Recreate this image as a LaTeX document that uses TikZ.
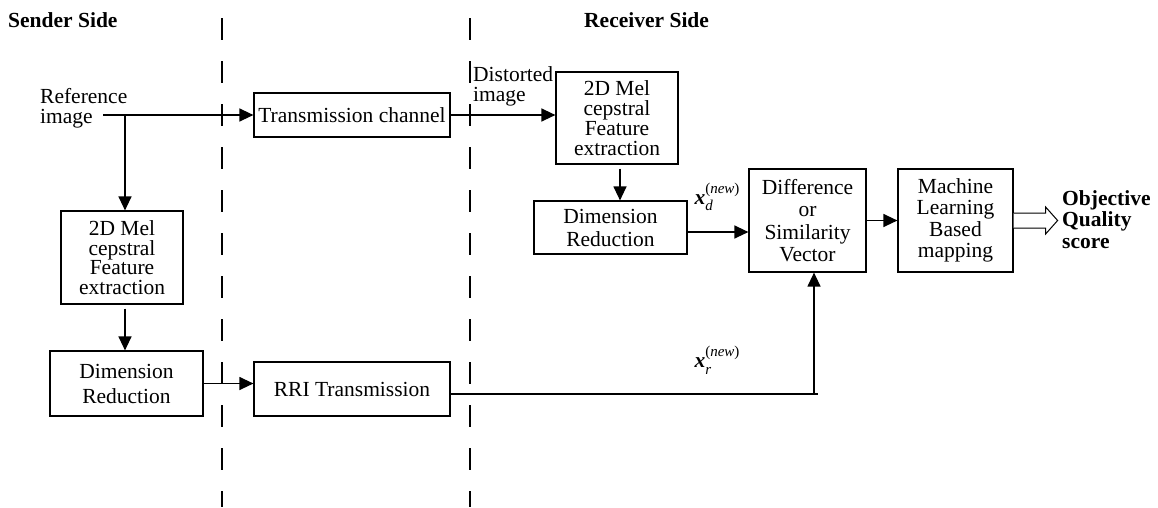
\documentclass[tikz,border=0pt]{standalone}
\usepackage{fontspec}
\setmainfont{Liberation Serif}
\usetikzlibrary{arrows.meta,calc}
\newcommand\setfs[1]{\fontsize{21.5}{#1}\selectfont}
\begin{document}
\begin{tikzpicture}[x=1pt,y=-1pt,
  box/.style={draw, line width=1.2pt, inner sep=0pt, align=center},
  txt/.style={inner sep=0pt, align=left},
  conn/.style={line width=1.3pt, -{Triangle[length=14pt,width=13pt]}},
  wire/.style={line width=1.3pt},
  divider/.style={line width=1.2pt, dash pattern=on 22pt off 21pt}]
\useasboundingbox (0,0) rectangle (1158,507);

% side headings and dividers
\node[txt, anchor=north west, font=\setfs{24}\bfseries] (sender) at (8,12) {Sender Side};
\node[txt, anchor=north west, font=\setfs{24}\bfseries] (receiver) at (584,12) {Receiver Side};
\draw[divider] (222,18) -- (222,507);
\draw[divider] (470,18) -- (470,507);

% sender side
\node[txt, anchor=north west, font=\setfs{20}] (ref) at (40,88) {Reference\\image};
\node[box, minimum width=196pt, minimum height=44pt, font=\setfs{20}] (tc) at (352,115) {Transmission channel};
\node[box, minimum width=122pt, minimum height=93pt, font=\setfs{19.5}] (fe1) at (122,257.5) {2D Mel\\cepstral\\Feature\\extraction};
\node[box, minimum width=153pt, minimum height=65pt, font=\setfs{25}] (dr1) at (126.5,383.5) {Dimension\\Reduction};
\node[box, minimum width=196pt, minimum height=54pt, font=\setfs{20}] (rri) at (352,389) {RRI Transmission};

% receiver side
\node[txt, anchor=north west, font=\setfs{20}] (dist) at (473,66) {Distorted\\image};
\node[box, minimum width=122pt, minimum height=92pt, font=\setfs{20}] (fe2) at (617,118) {2D Mel\\cepstral\\Feature\\extraction};
\node[box, minimum width=153pt, minimum height=53pt, font=\setfs{23}] (dr2) at (610.5,227.5) {Dimension\\Reduction};
\node[box, minimum width=117pt, minimum height=103pt, font=\setfs{22.5}] (diff) at (807.5,220.5) {Difference\\or\\Similarity\\Vector};
\node[box, minimum width=115pt, minimum height=103pt, font=\setfs{21.5}] (ml) at (955.5,220.5) {Machine\\Learning\\Based\\mapping};
\node[txt, anchor=north west, font=\setfs{21.5}\bfseries] (score) at (1062,190) {Objective\\Quality\\score};

% feature labels
\node[txt, font=\setfs{20}] (xd) at (717,197) {\textbf{\textit{x}}\rlap{\raisebox{-0.32em}{\fontsize{15}{15}\selectfont\itshape d}}\raisebox{0.5em}{\fontsize{15}{15}\selectfont(\textit{new})}};
\node[txt, font=\setfs{20}] (xr) at (717,360) {\textbf{\textit{x}}\rlap{\raisebox{-0.32em}{\fontsize{15}{15}\selectfont\itshape r}}\raisebox{0.5em}{\fontsize{15}{15}\selectfont(\textit{new})}};

% connectors
\coordinate (refout) at (103,115);
\coordinate (split) at (125,115);
\draw[conn] (refout) -- (tc.west);
\draw[conn] (split) -- (split |- fe1.north);
\draw[conn] ($(fe1.south)+(3,4)$) coordinate (a1) -- (a1 |- dr1.north);
\draw[conn] (dr1.east) -- (dr1.east -| rri.west);
\draw[conn] (tc.east) -- (tc.east -| fe2.west);
\draw[conn] ($(fe2.south)+(3,4)$) coordinate (a2) -- (a2 |- dr2.north);
\draw[conn] ($(dr2.east)+(0,4.5)$) coordinate (a3) -- (a3 -| diff.west);
\coordinate (join) at (814,394);
\draw[wire] ($(rri.east)+(0,5)$) -- ($(join)+(4,0)$);
\draw[conn] (join) -- (join |- diff.south);
\draw[conn] (diff.east) -- (ml.west);

% output arrow
\draw[line width=1pt, fill=white] ($(ml.east)+(0,-7.5)$) -- ++(32,0) -- ++(0,-6) -- ++(12,13.5) -- ++(-12,13.5) -- ++(0,-6) -- ++(-32,0);
\end{tikzpicture}
\end{document}
